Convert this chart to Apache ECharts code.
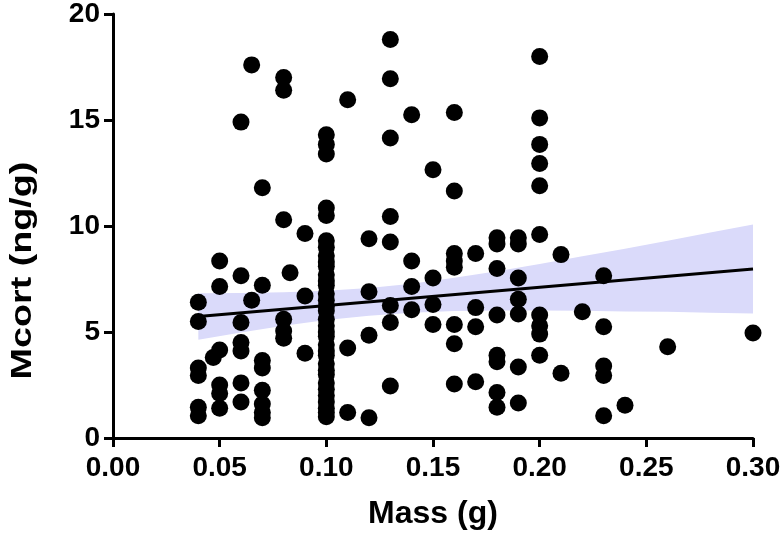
<!DOCTYPE html>
<html>
<head>
<meta charset="utf-8">
<script src="https://cdn.jsdelivr.net/npm/echarts@6/dist/echarts.min.js"></script>
<style>html,body{margin:0;padding:0;background:#fff;}#c{width:784px;height:541px;}</style>
</head>
<body>
<div id="c"></div>
<script>
// Scatter data: mass (g) and Mcort (ng/g)
var massValues = [
  0.04,0.04,0.04,0.04,0.04,0.04,
  0.047,
  0.05,0.05,0.05,0.05,0.05,0.05,
  0.06,0.06,0.06,0.06,0.06,0.06,0.06,
  0.065,0.065,
  0.07,0.07,0.07,0.07,0.07,0.07,0.07,0.07,
  0.08,0.08,0.08,0.08,0.08,0.08,
  0.083,
  0.09,0.09,0.09,
  0.10,0.10,0.10,0.10,0.10,
  0.10,0.10,0.10,0.10,0.10,0.10,0.10,0.10,0.10,0.10,
  0.10,0.10,0.10,0.10,0.10,0.10,0.10,0.10,0.10,0.10,
  0.10,0.10,0.10,0.10,0.10,0.10,0.10,0.10,0.10,
  0.11,0.11,0.11,
  0.12,0.12,0.12,0.12,
  0.13,0.13,0.13,0.13,0.13,0.13,0.13,0.13,
  0.14,0.14,0.14,0.14,
  0.15,0.15,0.15,0.15,
  0.16,0.16,0.16,0.16,0.16,0.16,0.16,0.16,
  0.17,0.17,0.17,0.17,
  0.18,0.18,0.18,0.18,0.18,0.18,0.18,0.18,
  0.19,0.19,0.19,0.19,0.19,0.19,0.19,
  0.20,0.20,0.20,0.20,0.20,0.20,0.20,0.20,0.20,0.20,
  0.21,0.21,
  0.22,
  0.23,0.23,0.23,0.23,0.23,
  0.24,
  0.26,
  0.30
];
var mcortValues = [
  6.4,5.5,3.3,2.95,1.45,1.05,
  3.8,
  8.35,7.15,4.15,2.5,2.1,1.4,
  14.9,7.65,5.45,4.5,4.1,2.6,1.7,
  17.6,6.5,
  11.8,7.2,3.65,3.3,2.25,1.6,1.2,0.95,
  17.0,16.4,10.3,5.6,5.05,4.7,
  7.8,
  9.65,6.7,4.0,
  14.3,13.85,13.4,10.85,10.5,
  9.3,9.0,8.6,8.3,8.1,7.7,7.4,7.2,6.8,6.5,
  6.2,6.0,5.6,5.3,5.0,4.8,4.4,4.1,3.9,3.5,
  3.2,3.0,2.6,2.3,2.0,1.7,1.4,1.2,1.0,
  15.95,4.25,1.2,
  9.4,6.9,4.85,0.95,
  18.8,16.95,14.15,10.45,9.25,6.25,5.45,2.45,
  15.25,8.35,7.15,6.05,
  12.65,7.55,6.3,5.35,
  15.35,11.65,8.7,8.35,8.05,5.35,4.45,2.55,
  8.7,6.15,5.25,2.65,
  9.45,9.15,8.0,5.8,3.9,3.6,2.15,1.45,
  9.45,9.15,7.55,6.55,5.85,3.35,1.65,
  18.0,15.1,13.85,12.95,11.9,9.6,5.8,5.3,4.9,3.9,
  8.65,3.05,
  5.95,
  7.65,5.25,3.4,2.95,1.05,
  1.55,
  4.3,
  4.95
];
// Regression line end points
var fitX = [0.04, 0.30];
var fitY = [5.73, 7.97];
// Confidence band
var bandX     = [0.04,0.06,0.08,0.10,0.12,0.14,0.16,0.18,0.20,0.22,0.24,0.26,0.28,0.30];
var bandUpper = [6.83,6.84,6.87,6.94,7.07,7.28,7.56,7.87,8.21,8.57,8.93,9.31,9.69,10.07];
var bandLower = [4.63,4.98,5.30,5.57,5.77,5.91,5.99,6.01,6.01,6.00,5.97,5.95,5.91,5.87];
// Axis ticks
var xTicks = [0.00,0.05,0.10,0.15,0.20,0.25,0.30];
var yTicks = [0,5,10,15,20];

var scatterData = massValues.map(function(m,i){return [m, mcortValues[i]];});
var fitData = fitX.map(function(x,i){return [x, fitY[i]];});

var chart = echarts.init(document.getElementById('c'), null, {renderer:'canvas'});
var FONT = 'Liberation Sans, Arial, sans-serif';
var option = {
  animation: false,
  backgroundColor: '#ffffff',
  grid: {left: 113, right: 31, top: 12, bottom: 103, containLabel: false},
  xAxis: {
    type: 'value', min: xTicks[0], max: xTicks[xTicks.length-1], interval: 0.05,
    name: 'Mass (g)', nameLocation: 'middle', nameGap: 60,
    nameTextStyle: {fontFamily: FONT, fontWeight: 'bold', fontSize: 32, color: '#000'},
    axisLine: {show: true, onZero: false, lineStyle: {color: '#000', width: 3}},
    axisTick: {show: true, length: 9, lineStyle: {color: '#000', width: 3}},
    axisLabel: {fontFamily: FONT, fontWeight: 'bold', fontSize: 28, color: '#000', margin: 16,
      formatter: function(v){return v.toFixed(2);}},
    splitLine: {show: false}
  },
  yAxis: {
    type: 'value', min: yTicks[0], max: yTicks[yTicks.length-1], interval: 5,
    axisLine: {show: true, onZero: false, lineStyle: {color: '#000', width: 3}},
    axisTick: {show: true, length: 9, lineStyle: {color: '#000', width: 3}},
    axisLabel: {fontFamily: FONT, fontWeight: 'bold', fontSize: 28, color: '#000', margin: 13},
    splitLine: {show: false}
  },
  graphic: [{
    type: 'text', left: 8, top: 'middle',
    x: 24, y: 257,
    rotation: Math.PI/2, scaleX: 1.3,
    style: {text: 'Mcort (ng/g)', fontFamily: FONT, fontWeight: 'bold', fontSize: 29, fill: '#000',
      textAlign: 'center', textVerticalAlign: 'middle'}
  }],
  series: [
    {
      type: 'custom', z: 1, silent: true,
      data: [[bandX[0], bandLower[0]]],
      renderItem: function(params, api){
        var pts = [];
        for (var i=0;i<bandX.length;i++) pts.push(api.coord([bandX[i], bandUpper[i]]));
        for (var j=bandX.length-1;j>=0;j--) pts.push(api.coord([bandX[j], bandLower[j]]));
        return {type:'polygon', shape:{points: pts}, style:{fill:'#dadafa'}};
      }
    },
    {
      type: 'scatter', z: 2, data: scatterData, symbol: 'circle', symbolSize: 17,
      itemStyle: {color: '#000', opacity: 1}
    },
    {
      type: 'line', z: 3, data: fitData, symbol: 'none',
      lineStyle: {color: '#000', width: 3}
    }
  ]
};
chart.setOption(option);
</script>
</body>
</html>
